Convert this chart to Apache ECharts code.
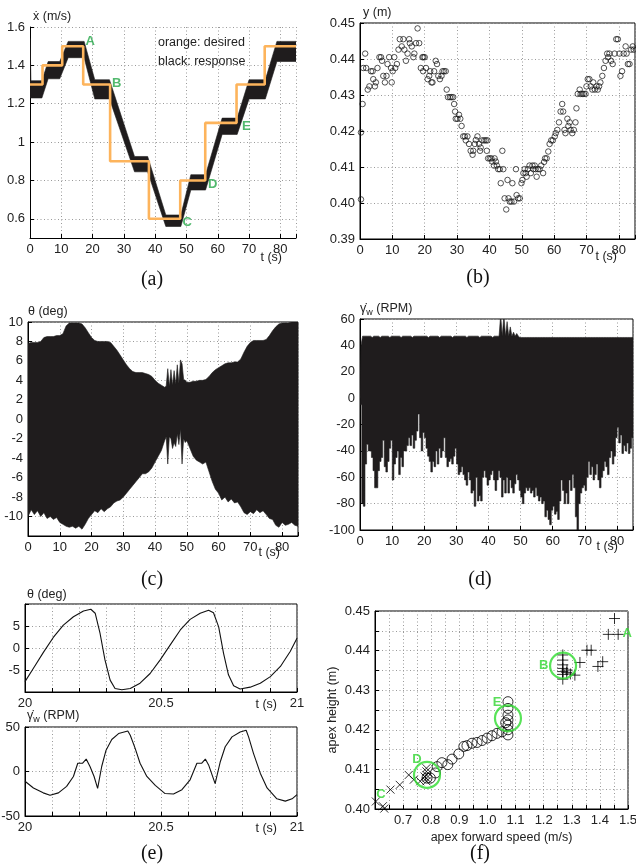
<!DOCTYPE html>
<html><head><meta charset="utf-8">
<script src="https://cdn.jsdelivr.net/npm/echarts@6/dist/echarts.min.js"></script>
<style>html,body{margin:0;padding:0;background:#fff}#c{width:636px;height:865px}</style>
</head><body><div id="c"></div>
<script>
// ---------- DATA ----------
// (a) forward speed: response band [t, low, high] and desired step [t, value]
const aResponse = [[0,1.23,1.54],[0.3,1.23,1.32],[3.8,1.23,1.32],[5.8,1.33,1.42],[9.5,1.33,1.42],[12.2,1.44,1.525],[17.3,1.44,1.525],
  [20.7,1.225,1.325],[25.4,1.225,1.325],[33.4,0.845,0.925],[37.6,0.845,0.925],[43.4,0.56,0.62],[48.2,0.56,0.62],[51.4,0.75,0.83],
  [56.1,0.75,0.83],[61.4,1.04,1.125],[66.2,1.04,1.125],[70,1.225,1.325],[75.2,1.225,1.325],[78.9,1.42,1.525],[85,1.42,1.525]];
const aDesired = [[0,1.3],[4,1.4],[10.3,1.5],[17,1.3],[25.6,0.9],[38,0.6],[48,0.8],[56,1.1],[66,1.3],[75,1.5],[85,1.5]];
const aMarks = [['A',19.2,1.525],['B',27.7,1.304],['C',50.2,0.58],['D',58.4,0.78],['E',69.1,1.08]];

// (b) apex height y (m) vs t (s)
const bPoints = [[0.3,0.401],[0.3,0.4196],[0.8,0.4275],[1.0,0.4375],[1.6,0.4415],[1.9,0.4375],[2.4,0.4315],[2.9,0.4324],[3.4,0.4366],[3.9,0.4366],
 [4.1,0.4344],[4.6,0.4324],[4.9,0.4335],[5.4,0.4375],[6.0,0.4405],[6.5,0.4405],[6.8,0.4395],[7.2,0.4353],[7.7,0.4335],[8.2,0.4353],
 [8.5,0.4386],[9.0,0.4405],[9.6,0.4375],[9.8,0.4335],[10.1,0.4366],[10.6,0.4405],[10.9,0.4375],[11.4,0.4386],[11.9,0.4426],[12.3,0.4455],
 [12.9,0.4435],[13.4,0.4455],[13.7,0.4426],[14.2,0.4395],[14.7,0.4415],[15.2,0.4455],[15.4,0.4444],[16.0,0.4435],[16.5,0.4405],[16.8,0.4415],
 [17.3,0.4444],[17.8,0.4485],[18.3,0.4444],[18.8,0.4375],[19.3,0.4405],[19.5,0.4366],[19.6,0.4405],[20.0,0.4405],[20.4,0.4375],[20.9,0.4344],
 [21.4,0.4353],[21.7,0.4366],[22.1,0.4335],[22.4,0.4335],[22.9,0.4366],[23.4,0.4395],[23.8,0.4386],[24.2,0.4353],[24.7,0.4344],[25.2,0.4353],
 [25.5,0.4366],[26.0,0.4366],[26.5,0.4366],[26.8,0.4315],[27.2,0.4294],[27.8,0.4294],[28.3,0.4294],[28.8,0.4294],[29.1,0.4275],[29.4,0.4254],
 [29.6,0.4234],[30.1,0.4234],[30.6,0.4245],[31.0,0.4234],[31.4,0.4214],[31.9,0.4185],[32.4,0.4185],[32.7,0.4174],[33.2,0.4185],[33.7,0.4164],
 [34.2,0.4145],[34.8,0.4134],[35.0,0.4145],[35.5,0.4164],[35.8,0.4175],[36.3,0.4185],[36.8,0.4164],[37.1,0.4145],[37.3,0.4154],[37.8,0.4174],
 [38.4,0.4174],[38.9,0.4174],[39.4,0.4174],[39.2,0.4145],[39.6,0.4124],[40.1,0.4124],[40.6,0.4124],[40.9,0.4115],[41.4,0.4104],[41.6,0.4124],
 [42.0,0.4115],[42.3,0.4104],[42.7,0.4094],[43.2,0.4094],[43.5,0.4055],[44.0,0.4145],[44.3,0.4094],[44.7,0.4013],[45.2,0.3982],[45.6,0.4064],
 [45.9,0.4013],[46.3,0.4004],[46.8,0.4004],[47.1,0.4055],[47.6,0.4004],[48.2,0.4094],[48.4,0.4022],[48.9,0.4013],[49.4,0.4013],[49.9,0.4055],
 [50.2,0.4064],[50.5,0.4083],[50.9,0.4094],[51.2,0.4083],[51.5,0.4073],[51.9,0.4094],[52.4,0.4104],[52.8,0.4083],[53.3,0.4104],[53.6,0.4094],
 [54.0,0.4104],[54.3,0.4094],[54.6,0.4073],[55.0,0.4094],[55.5,0.4094],[56.0,0.4104],[56.6,0.4083],[56.9,0.4114],[57.2,0.4124],[57.7,0.4124],
 [58.2,0.4143],[58.6,0.4164],[59.1,0.4174],[59.6,0.4174],[60.2,0.4185],[60.5,0.4194],[61.0,0.4203],[61.5,0.4224],[62.0,0.4254],[62.5,0.4275],
 [62.8,0.4254],[63.2,0.4203],[63.5,0.4194],[64.1,0.4234],[64.4,0.4214],[64.8,0.4224],[65.1,0.4203],[65.6,0.4194],[66.1,0.4203],[66.6,0.4224],
 [66.9,0.4263],[67.3,0.4303],[67.9,0.4315],[68.2,0.4303],[68.7,0.4303],[69.2,0.4303],[69.7,0.4303],[70.0,0.4324],[70.4,0.4344],[70.9,0.4344],
 [71.3,0.4324],[71.8,0.4315],[72.1,0.4335],[72.6,0.4315],[73.1,0.4324],[73.5,0.4315],[73.9,0.4324],[74.3,0.4335],[74.9,0.4353],[75.4,0.4375],
 [75.9,0.4395],[76.4,0.4415],[76.7,0.4405],[77.1,0.4415],[77.6,0.4395],[78.1,0.4386],[78.7,0.4415],[79.2,0.4455],[79.7,0.4455],[80.2,0.4415],
 [80.5,0.4353],[81.0,0.4366],[81.5,0.4415],[82.1,0.4435],[82.4,0.4415],[82.8,0.4386],[83.3,0.4386],[83.8,0.4426],[84.3,0.4435],[84.6,0.4426]];

// (c) theta envelope [t, low, high] (deg)
const cBand = [[0,-10,7.8],[1,-9.3,7.9],[2,-9.8,7.9],[3,-9.4,7.9],[4,-10,8.0],[5,-9.6,8.4],[6,-10.2,8.5],[7,-10,8.5],[8,-10.3,8.5],[9,-10.1,8.6],
 [10,-10.6,8.6],[11,-10.8,8.8],[12,-11,9.6],[13,-11.1,9.9],[14,-11,9.9],[15,-11.2,9.9],[16,-11,9.9],[17,-11.3,9.8],[18,-10.8,9.4],[19,-10.2,8.9],
 [20,-9.8,8.4],[21,-9.4,8.1],[22,-9.6,8.0],[23,-9.2,8.0],[24,-9.5,8.0],[25,-9.2,8.0],[26,-9.0,7.9],[27,-8.6,7.5],[28,-8.4,7.1],[29,-8.3,6.6],
 [30,-8.0,6.1],[31,-7.6,5.6],[32,-7.2,5.2],[33,-6.8,4.9],[34,-6.4,4.8],[35,-6.0,4.8],[36,-5.6,4.8],[37,-5.6,4.7],[38,-5.4,4.6],[39,-5.0,4.4],
 [40,-4.4,4.0],[41,-3.8,3.7],[42,-3.2,3.5],[43,-2.2,3.3],[43.5,-1.8,3.4],[44,-4.6,5.2],[44.5,-1.8,3.4],[45,-2.0,5.1],[45.5,-3.0,3.5],[46,-2.4,5.0],
 [46.5,-2.8,3.6],[47,-1.5,5.6],[47.5,-2.6,3.7],[48,-1.0,6.1],[48.5,-4.6,5.7],[49,-2.0,4.1],[49.5,-2.4,4.0],[50,-2.2,3.8],[51,-3.0,3.8],[52,-3.8,3.9],
 [53,-4.2,3.9],[54,-4.4,4.0],[55,-4.6,4.0],[56,-4.4,4.1],[57,-5.4,4.4],[58,-6.4,4.8],[59,-7.2,5.1],[60,-7.6,5.3],[61,-8.3,5.5],[62,-8.0,5.7],
 [63,-8.5,5.8],[64,-8.2,5.8],[65,-8.6,5.9],[66,-8.5,5.9],[67,-9.0,6.2],[68,-9.6,6.9],[69,-9.8,7.5],[70,-9.5,7.9],[71,-9.7,8.1],[72,-9.3,8.1],
 [73,-9.6,8.1],[74,-9.4,8.1],[75,-9.8,8.2],[76,-10.2,8.6],[77,-10.3,9.1],[78,-10.9,9.5],[79,-11.1,9.8],[80,-10.6,9.9],[81,-10.9,9.9],[82,-10.8,9.9],
 [83,-10.6,10],[84,-10.9,10],[85,-11,10]];

// (d) wheel speed envelope [t, low, high] (RPM)
const dBand = [[0,0,0],[0.3,-5,40],[0.8,-80,47],[1.3,-82,47],[1.8,-50,47],[2.3,-35,47],[2.8,-40,47],[3.3,-40,47],[3.8,-45,46],[4.3,-55,47],[4.8,-68,47],
 [5.3,-68,47],[5.8,-55,47],[6.3,-48,46],[6.8,-45,47],[7.3,-32,47],[7.8,-52,47],[8.3,-56,47],[8.8,-48,47],[9.3,-38,46],[9.8,-32,47],
 [10.3,-62,47],[10.8,-50,47],[11.3,-45,47],[11.8,-40,47],[12.3,-58,47],[12.8,-45,46],[13.3,-52,47],[13.8,-40,47],[14.3,-40,47],[14.8,-36,47],
 [15.3,-30,47],[15.8,-36,47],[16.3,-28,46],[16.8,-38,47],[17.3,-32,47],[17.8,-25,47],[18.3,-12,47],[18.8,-30,47],[19.3,-40,47],[19.8,-26,47],
 [20.3,-30,47],[20.8,-38,47],[21.3,-44,46],[21.8,-48,47],[22.3,-56,47],[22.8,-48,47],[23.3,-52,47],[23.8,-40,47],[24.3,-50,47],[24.8,-38,46],
 [25.3,-45,47],[25.8,-40,47],[26.3,-30,47],[26.8,-45,47],[27.3,-52,47],[27.8,-48,47],[28.3,-46,47],[28.8,-50,46],[29.3,-44,47],[29.8,-38,47],
 [30.3,-50,47],[30.8,-58,47],[31.3,-56,47],[31.8,-52,47],[32.3,-58,47],[32.8,-62,47],[33.3,-66,46],[33.8,-56,47],[34.3,-62,47],[34.8,-72,47],
 [35.3,-70,47],[35.8,-82,47],[36.3,-60,47],[36.8,-78,47],[37.3,-74,46],[37.8,-78,47],[38.3,-60,47],[38.8,-55,47],[39.3,-60,47],[39.8,-66,47],
 [40.3,-62,47],[40.8,-58,47],[41.3,-55,46],[41.8,-62,47],[42.3,-70,47],[42.8,-62,47],[43.3,-55,47],[43.8,-60,63],[44.3,-75,47],[44.8,-62,63],
 [45.3,-72,47],[45.8,-60,58],[46.3,-72,47],[46.8,-62,54],[47.3,-68,47],[47.8,-72,50],[48.3,-65,47],[48.8,-58,49],[49.3,-62,47],[49.8,-70,46],
 [50.3,-75,46],[50.8,-80,46],[51.3,-72,46],[51.8,-68,46],[52.3,-70,46],[52.8,-68,46],[53.3,-72,46],[53.8,-70,46],[54.3,-75,46],[54.8,-68,46],
 [55.3,-74,46],[55.8,-78,46],[56.3,-75,46],[56.8,-80,46],[57.3,-78,46],[57.8,-90,46],[58.3,-85,46],[58.8,-92,46],[59.3,-96,46],[59.8,-85,46],
 [60.3,-82,46],[60.8,-88,46],[61.3,-86,46],[61.8,-92,46],[62.3,-78,46],[62.8,-62,46],[63.3,-70,46],[63.8,-80,46],[64.3,-72,46],[64.8,-80,46],
 [65.3,-62,46],[65.8,-70,46],[66.3,-58,46],[66.8,-68,46],[67.3,-90,46],[67.8,-100,46],[68.3,-80,46],[68.8,-72,46],[69.3,-68,46],[69.8,-66,46],
 [70.3,-70,46],[70.8,-60,46],[71.3,-48,46],[71.8,-58,46],[72.3,-52,46],[72.8,-62,46],[73.3,-58,46],[73.8,-50,46],[74.3,-62,46],[74.8,-68,46],
 [75.3,-60,46],[75.8,-55,46],[76.3,-48,46],[76.8,-52,46],[77.3,-58,46],[77.8,-45,46],[78.3,-40,46],[78.8,-50,46],[79.3,-44,46],[79.8,-30,46],
 [80.3,-22,46],[80.8,-34,46],[81.3,-28,46],[81.8,-42,46],[82.3,-36,46],[82.8,-40,46],[83.3,-34,46],[83.8,-42,46],[84.3,-38,46],[84.8,-30,46],[85,-30,46]];

// (e) zoom 20-21 s
const eTheta = [[20,-7.65],[20.031,-4.6],[20.067,-1.06],[20.104,2.4],[20.141,5.2],[20.178,7.1],[20.215,8.4],[20.242,8.8],[20.258,7.9],
 [20.276,3.3],[20.294,-2.7],[20.313,-7.3],[20.331,-9.2],[20.356,-9.5],[20.387,-9.2],[20.423,-8.0],[20.46,-5.8],[20.497,-2.7],[20.534,0.7],
 [20.571,4.1],[20.607,6.5],[20.644,7.9],[20.675,8.6],[20.693,8.0],[20.712,4.8],[20.73,-1.2],[20.748,-6.1],[20.767,-8.6],[20.791,-9.3],
 [20.828,-8.9],[20.865,-8.0],[20.902,-6.5],[20.939,-4.2],[20.975,-0.8],[21,2.2]];
const eGamma = [[20,-11],[20.031,-18.5],[20.067,-24],[20.092,-26.7],[20.123,-24],[20.153,-16.7],[20.178,-5.6],[20.194,9.3],[20.212,9.3],
 [20.225,14],[20.239,5.6],[20.254,-5.6],[20.267,-19],[20.282,5.6],[20.298,24],[20.319,36],[20.344,42.6],[20.378,45.6],[20.387,40.7],
 [20.405,26],[20.423,9.3],[20.448,-5.6],[20.479,-15.6],[20.515,-24.8],[20.546,-25.2],[20.577,-20.4],[20.607,-9.3],[20.632,9.3],[20.65,9.3],
 [20.663,14],[20.675,7.4],[20.699,-13.7],[20.718,11],[20.736,27.8],[20.761,38.9],[20.791,44.4],[20.813,46.3],[20.822,38.9],[20.84,20.4],
 [20.865,-1.9],[20.89,-18.5],[20.926,-30.7],[20.957,-33.3],[20.982,-30.7],[21,-26]];

// (f) apex height vs apex forward speed
const fPlus = [[1.452,0.4481],[1.43,0.4441],[1.465,0.4441],[1.354,0.4401],[1.369,0.4401],[1.329,0.437],[1.41,0.4372],[1.393,0.436],
 [1.311,0.4338],[1.282,0.4345],[1.268,0.4389],[1.268,0.4376],[1.268,0.4364],[1.268,0.4355],[1.268,0.4347],[1.268,0.434],[1.268,0.4328],
 [1.283,0.4351],[1.295,0.4341]];
const fCross = [[0.603,0.4019],[0.628,0.4007],[0.633,0.4001],[0.655,0.4049],[0.688,0.4061],[0.72,0.4086],[0.738,0.4074],[0.761,0.407],
 [0.776,0.4082],[0.783,0.4103],[0.783,0.4095],[0.783,0.4086],[0.783,0.4078],[0.783,0.407]];
const fCircle = [[0.785,0.4078],[0.797,0.4078],[0.815,0.4091],[0.821,0.4107],[0.838,0.4117],[0.859,0.4112],[0.874,0.4126],[0.898,0.4139],
 [0.916,0.4158],[0.927,0.416],[0.945,0.4166],[0.963,0.4168],[0.981,0.4173],[0.999,0.4179],[1.016,0.4185],[1.034,0.4191],[1.052,0.4195],
 [1.065,0.4218],[1.073,0.4271],[1.073,0.4254],[1.073,0.4237],[1.073,0.4225],[1.073,0.4212],[1.073,0.42],[1.073,0.4187]];
const fRings = [[1.269,0.4362],[1.073,0.4229],[0.785,0.4086]];
const fMarks = [['A',1.497,0.4443],['B',1.20,0.4363],['E',1.034,0.4268],['D',0.749,0.4126],['C',0.621,0.4036]];

// ---------- CHART ----------
const FONT = '"Liberation Sans", Arial, sans-serif';
const SERIF = '"Liberation Serif", "Times New Roman", serif';
const near = (v, s) => Math.abs(v / s - Math.round(v / s)) < 1e-6;
function ax(gi, min, max, interval, fmt, extra) {
  const o = {
    type: 'value', gridIndex: gi, min: min, max: max,
    axisLine: {show: true, onZero: false, lineStyle: {color: '#000', width: 1}},
    axisTick: {show: true, inside: true, length: 4, lineStyle: {color: '#000'}},
    axisLabel: {color: '#222', fontSize: 13, fontFamily: FONT, margin: 5, formatter: fmt},
    splitLine: {show: true, lineStyle: {color: '#9a9a9a', type: [1, 2.5], width: 1}}
  };
  if (interval != null) o.interval = interval;
  return Object.assign(o, extra || {});
}
const fmtT = v => near(v, 10) ? String(Math.round(v)) : '';
const gridBox = {show: true, borderColor: '#000', borderWidth: 1, backgroundColor: 'transparent', outerBoundsMode: 'none'};
const grids = [
  {left: 30, top: 27, width: 266, height: 211, show: false, outerBoundsMode: 'none'},
  Object.assign({left: 360, top: 23, width: 275, height: 216}, gridBox),
  Object.assign({left: 28, top: 322, width: 270, height: 214}, gridBox),
  Object.assign({left: 360, top: 319, width: 273, height: 211}, gridBox),
  Object.assign({left: 25, top: 604, width: 272, height: 88}, gridBox),
  Object.assign({left: 25, top: 727, width: 272, height: 89}, gridBox),
  Object.assign({left: 375, top: 611, width: 253, height: 198}, gridBox)
];
const xAxes = [
  ax(0, 0, 85, 10, fmtT),
  ax(1, 0, 85, 10, fmtT),
  ax(2, 0, 85, 10, fmtT),
  ax(3, 0, 85, 10, fmtT),
  ax(4, 20, 21, 0.1, v => near(v, 0.5) ? String(+v.toFixed(1)) : ''),
  ax(5, 20, 21, 0.1, v => near(v, 0.5) ? String(+v.toFixed(1)) : ''),
  ax(6, 0.6, 1.5, 0.05, v => (near(v, 0.1) && v > 0.65) ? v.toFixed(1) : '',
     {name: 'apex forward speed (m/s)', nameLocation: 'middle', nameGap: 22,
      nameTextStyle: {fontSize: 12.5, fontFamily: FONT, color: '#222'}})
];
const yAxes = [
  ax(0, 0.5, 1.6, null, v => String(+v.toFixed(1))),
  ax(1, 0.39, 0.45, 0.01, v => v.toFixed(2)),
  ax(2, -12, 10, 2, v => v < -11 ? '' : String(Math.round(v))),
  ax(3, -100, 60, 20, v => String(Math.round(v))),
  ax(4, -10, 10, 5, v => Math.abs(v) > 9 ? '' : String(Math.round(v))),
  ax(5, -50, 50, 50, v => String(Math.round(v))),
  ax(6, 0.4, 0.45, 0.005, v => near(v, 0.01) ? v.toFixed(2) : '',
     {name: 'apex height (m)', nameLocation: 'middle', nameGap: 36, nameRotate: 90,
      nameTextStyle: {fontSize: 12.5, fontFamily: FONT, color: '#222'}})
];
yAxes[0].axisLabel.showMinLabel = false;

function band(gi, rows, stepLower) {
  return {
    type: 'custom', xAxisIndex: gi, yAxisIndex: gi, clip: true, silent: true, z: 2,
    data: [[rows[0][0], rows[0][1]]],
    renderItem: function (params, api) {
      const pts = [];
      const n = rows.length;
      for (let i = 0; i < n; i++) pts.push(api.coord([rows[i][0], rows[i][2]]));
      for (let i = n - 1; i >= 0; i--) {
        if (stepLower) {
          const x1 = i < n - 1 ? (rows[i][0] + rows[i + 1][0]) / 2 : rows[i][0];
          const x0 = i > 0 ? (rows[i - 1][0] + rows[i][0]) / 2 : rows[i][0];
          pts.push(api.coord([x1, rows[i][1]]));
          pts.push(api.coord([x0, rows[i][1]]));
        } else pts.push(api.coord([rows[i][0], rows[i][1]]));
      }
      return {type: 'polygon', shape: {points: pts}, style: {fill: '#1f1c1d', stroke: '#1f1c1d', lineWidth: 0.6}};
    }
  };
}
function marks(gi, list, color) {
  return {
    type: 'scatter', xAxisIndex: gi, yAxisIndex: gi, symbolSize: 0, clip: false, silent: true, z: 6,
    data: list.map(m => ({name: m[0], value: [m[1], m[2]]})),
    label: {show: true, position: 'inside', formatter: '{b}', color: color, fontSize: 13, fontWeight: 'bold', fontFamily: FONT}
  };
}
const PLUS = 'path://M0,5L10,5M5,0L5,10';
const CROSS = 'path://M0,0L10,10M10,0L0,10';
const hollow = {color: 'rgba(0,0,0,0)', borderColor: '#000', borderWidth: 1};

const series = [
  band(0, aResponse, false),
  {type: 'line', xAxisIndex: 0, yAxisIndex: 0, step: 'end', showSymbol: false, symbol: 'none', z: 4, silent: true,
   data: aDesired, lineStyle: {color: '#FDB45C', width: 2.6}},
  marks(0, aMarks, '#27A84A'),
  {type: 'scatter', xAxisIndex: 1, yAxisIndex: 1, symbol: 'circle', symbolSize: 5.5, silent: true, clip: false,
   data: bPoints, itemStyle: {color: 'rgba(0,0,0,0)', borderColor: '#111', borderWidth: 0.9}},
  band(2, cBand, false),
  band(3, dBand, true),
  {type: 'line', xAxisIndex: 4, yAxisIndex: 4, symbol: 'none', silent: true, data: eTheta, lineStyle: {color: '#111', width: 1.1}},
  {type: 'line', xAxisIndex: 5, yAxisIndex: 5, symbol: 'none', silent: true, data: eGamma, lineStyle: {color: '#111', width: 1.1}},
  {type: 'scatter', xAxisIndex: 6, yAxisIndex: 6, symbol: 'circle', symbolSize: 10, silent: true, data: fCircle, itemStyle: hollow},
  {type: 'scatter', xAxisIndex: 6, yAxisIndex: 6, symbol: PLUS, symbolSize: 11, silent: true, data: fPlus, itemStyle: hollow},
  {type: 'scatter', xAxisIndex: 6, yAxisIndex: 6, symbol: CROSS, symbolSize: 8, silent: true, data: fCross, itemStyle: hollow},
  {type: 'scatter', xAxisIndex: 6, yAxisIndex: 6, symbol: 'circle', symbolSize: 26, silent: true, z: 5, data: fRings,
   itemStyle: {color: 'rgba(0,0,0,0)', borderColor: '#2FDC2F', borderWidth: 2.2}},
  marks(6, fMarks, '#2FD62F')
];

function txt(x, y, text, align, extra) {
  return {type: 'text', x: x, y: y, z: 10, silent: true,
    style: Object.assign({text: text, fill: '#222', font: '12.5px ' + FONT, align: align || 'left', verticalAlign: 'middle'}, extra || {})};
}
function gammaLabel(x, y) {
  return {type: 'text', x: x, y: y, z: 10, silent: true,
    style: {text: '{g|γ\u0307}{s|w}{g| (RPM)}', fill: '#222', align: 'left', verticalAlign: 'middle',
      rich: {g: {fontSize: 12.5, fontFamily: FONT, fill: '#222', color: '#222'},
             s: {fontSize: 9, fontFamily: FONT, fill: '#222', color: '#222', padding: [7, 0, 0, 0]}}}};
}
function cap(x, y, t) {
  return {type: 'text', x: x, y: y, z: 10, silent: true,
    style: {text: t, fill: '#111', font: '20px ' + SERIF, align: 'center', verticalAlign: 'middle'}};
}
const graphics = [
  txt(33, 17, '\u1E8B (m/s)'), txt(282, 258, 't (s)', 'right'),
  txt(158, 43, 'orange: desired'), txt(158, 62, 'black: response'),
  txt(363, 13, 'y (m)'), txt(617, 257, 't (s)', 'right'),
  txt(28, 312, 'θ (deg)'), txt(280, 553, 't (s)', 'right'),
  gammaLabel(360, 309), txt(618, 547, 't (s)', 'right'),
  txt(27, 595, 'θ (deg)'), txt(277, 705, 't (s)', 'right'),
  gammaLabel(27, 716), txt(277, 829, 't (s)', 'right'),
  cap(152, 280, '(a)'), cap(478, 278, '(b)'), cap(152, 580, '(c)'), cap(480, 580, '(d)'), cap(152, 854, '(e)'), cap(480, 854, '(f)')
];

const chart = echarts.init(document.getElementById('c'), null, {renderer: 'canvas'});
chart.setOption({
  animation: false, backgroundColor: '#fff',
  textStyle: {fontFamily: FONT},
  grid: grids, xAxis: xAxes, yAxis: yAxes, series: series, graphic: graphics
});
</script></body></html>
